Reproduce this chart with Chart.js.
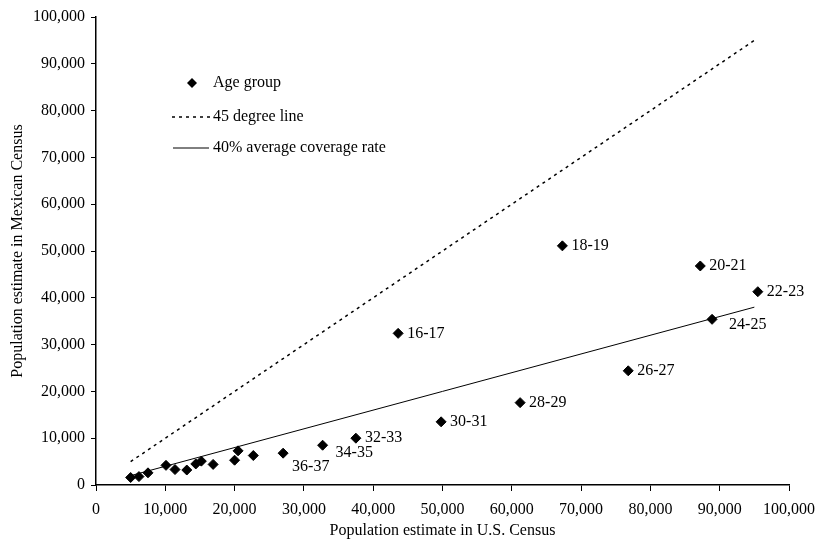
<!DOCTYPE html>
<html>
<head>
<meta charset="utf-8">
<script src="https://cdn.jsdelivr.net/npm/chart.js@4"></script>
<style>
  body { margin: 0; background: #fff; }
  #wrap { width: 821px; height: 542px; }
</style>
</head>
<body>
<div id="wrap"><canvas id="myChart" width="821" height="542"></canvas></div>
<script>
// U.S. census estimate (x) vs Mexican census estimate (y) by age group
var usCensus = [5000, 6200, 7500, 10100, 11400, 13100, 14400, 15200, 16900, 20000, 20500, 22700,
  27000, 32700, 37500, 49800, 61200, 76800, 88900, 95500, 87200, 67300, 43600];
var mexCensus = [1600, 1800, 2600, 4200, 3300, 3200, 4500, 5100, 4400, 5300, 7300, 6300,
  6800, 8500, 10000, 13500, 17600, 24400, 35400, 41300, 46800, 51100, 32400];
var ageLabels = ["", "", "", "", "", "", "", "", "", "", "", "",
  "36-37", "34-35", "32-33", "30-31", "28-29", "26-27", "24-25", "22-23", "20-21", "18-19", "16-17"];

var line45 = [5000, 95000];
var coverageRate = 0.4;
var axisTicks = [0, 10000, 20000, 30000, 40000, 50000, 60000, 70000, 80000, 90000, 100000];

var serif = "'Liberation Serif', 'Times New Roman', serif";

var points = usCensus.map(function (x, i) {
  return { x: x, y: mexCensus[i] };
});

// a few labels sit below / right of their marker
var labelShift = { "36-37": [0, 14], "34-35": [4, 8], "24-25": [8, 5] };

var pointLabels = {
  id: "pointLabels",
  afterDatasetsDraw: function (chart) {
    let ctx = chart.ctx;
    let meta = chart.getDatasetMeta(0);
    ctx.save();
    ctx.font = "16px " + serif;
    ctx.fillStyle = "#000";
    ctx.textBaseline = "middle";
    meta.data.forEach(function (el, i) {
      let txt = ageLabels[i];
      if (!txt) return;
      let s = labelShift[txt] || [0, 0];
      ctx.fillText(txt, el.x + 9 + s[0], el.y + s[1]);
    });
    ctx.restore();
  }
};

var innerLegend = {
  id: "innerLegend",
  afterDraw: function (chart) {
    let ctx = chart.ctx;
    let a = chart.chartArea;
    let x0 = a.left + 76, y0 = a.top + 66;
    ctx.save();
    ctx.fillStyle = "#000";
    ctx.strokeStyle = "#000";
    // diamond
    ctx.beginPath();
    ctx.moveTo(x0 + 20, y0 - 5);
    ctx.lineTo(x0 + 25, y0);
    ctx.lineTo(x0 + 20, y0 + 5);
    ctx.lineTo(x0 + 15, y0);
    ctx.closePath();
    ctx.fill();
    // dashed
    ctx.lineWidth = 1.5;
    ctx.setLineDash([3, 4]);
    ctx.beginPath();
    ctx.moveTo(x0, y0 + 34);
    ctx.lineTo(x0 + 38, y0 + 34);
    ctx.stroke();
    // solid
    ctx.setLineDash([]);
    ctx.lineWidth = 1;
    ctx.beginPath();
    ctx.moveTo(x0 + 1, y0 + 65);
    ctx.lineTo(x0 + 37, y0 + 65);
    ctx.stroke();
    ctx.font = "16px " + serif;
    ctx.textBaseline = "middle";
    ctx.fillText("Age group", x0 + 41, y0);
    ctx.fillText("45 degree line", x0 + 41, y0 + 34);
    ctx.fillText("40% average coverage rate", x0 + 41, y0 + 65);
    ctx.restore();
  }
};

var tickFmt = function (v) {
  return v.toLocaleString("en-US");
};

new Chart("myChart", {
  type: "scatter",
  data: {
    datasets: [
      {
        label: "Age group",
        data: points,
        pointStyle: "rectRot",
        pointRadius: 5,
        backgroundColor: "#000",
        borderColor: "#000",
        showLine: false
      },
      {
        label: "45 degree line",
        type: "line",
        data: line45.map(function (v) { return { x: v, y: v }; }),
        borderColor: "#000",
        borderWidth: 1.5,
        borderDash: [3, 4],
        pointRadius: 0,
        fill: false
      },
      {
        label: "40% average coverage rate",
        type: "line",
        data: line45.map(function (v) { return { x: v, y: v * coverageRate }; }),
        borderColor: "#000",
        borderWidth: 1,
        pointRadius: 0,
        fill: false
      }
    ]
  },
  options: {
    responsive: false,
    animation: false,
    layout: { padding: { top: 17, right: 32, left: 0, bottom: 0 } },
    plugins: {
      legend: { display: false },
      tooltip: { enabled: false }
    },
    scales: {
      x: {
        type: "linear",
        min: 0,
        max: 100000,
        afterFit: function (s) { s.height = 57; s.paddingRight = 0; s.paddingLeft = 0; },
        afterBuildTicks: function (s) { s.ticks = axisTicks.map(function (v) { return { value: v }; }); },
        border: { color: "#000", width: 1.5 },
        grid: { drawOnChartArea: false, drawTicks: true, tickLength: 6, color: "#000" },
        ticks: { color: "#000", font: { family: serif, size: 16 }, padding: 9, maxRotation: 0, callback: tickFmt },
        title: { display: true, text: "Population estimate in U.S. Census", color: "#000", font: { family: serif, size: 16 }, padding: 2 }
      },
      y: {
        type: "linear",
        min: 0,
        max: 100000,
        afterFit: function (s) { s.width = 96; },
        afterBuildTicks: function (s) { s.ticks = axisTicks.map(function (v) { return { value: v }; }); },
        border: { color: "#000", width: 1.5 },
        grid: { drawOnChartArea: false, drawTicks: true, tickLength: 5, color: "#000" },
        ticks: { color: "#000", font: { family: serif, size: 16 }, padding: 6, callback: tickFmt },
        title: { display: true, text: "Population estimate in Mexican Census", color: "#000", font: { family: serif, size: 16 }, padding: { top: 8, bottom: 0 } }
      }
    }
  },
  plugins: [pointLabels, innerLegend]
});
</script>
</body>
</html>
